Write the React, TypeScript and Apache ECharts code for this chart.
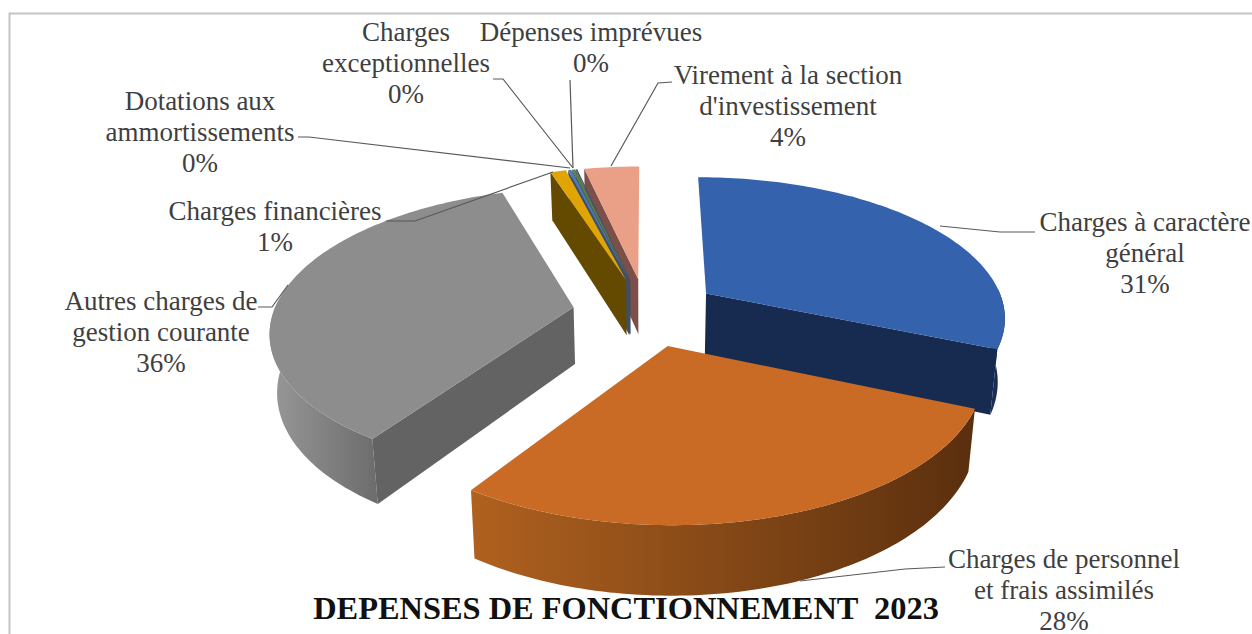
import React, { useEffect, useRef } from "react";
import * as echarts from "echarts";

const categories = [
  "Charges à caractère\ngénéral",
  "Charges de personnel\net frais assimilés",
  "Autres charges de\ngestion courante",
  "Charges financières",
  "Dotations aux\nammortissements",
  "Charges\nexceptionnelles",
  "Dépenses imprévues",
  "Virement à la section\nd'investissement",
];
const values = [31.4, 28, 35.6, 1, 0.2, 0.2, 0.1, 3.5];
const chartTitle = "DEPENSES DE FONCTIONNEMENT  2023";

const topColors = ["#3562ad", "#c96a25", "#8d8d8d", "#e0a504", "#4f79b5", "#5c7f44", "#44546a", "#e9a086"];
const cutColors = ["#172a4f", "#5a2f0e", "#636363", "#644a00", "#3f4f68", "#3f4f68", "#3f4f68", "#7c5048"];
const wallFrom = ["#1a2f5a", "#b0611f", "#989898", "#644a00", "#3f4f68", "#3f4f68", "#3f4f68", "#7c5048"];
const wallTo = ["#14264a", "#5a2f0e", "#6c6c6c", "#644a00", "#3f4f68", "#3f4f68", "#3f4f68", "#7c5048"];
// painter's order: the front slice is drawn last
const drawOrder = [70, 80, 60, 50, 40, 30, 20, 10];
const sliceDepth = [63, 57, 57, 57, 57, 57, 57, 57];

// Projection of the pie plane on the screen
const X0 = 646;
const Y0 = 312;
const FX = 300;
const FY = 139.6;
const PERSP = 0.155;
const BOTTOM_SHRINK = 0.02;
const EXPLODE = 0.245;

const project = (u: number, v: number, depth: number): number[] => {
  const w = 1 / (1 - PERSP * v);
  const shrink = depth > 0 ? 1 - BOTTOM_SHRINK : 1;
  return [X0 + FX * u * w * shrink, Y0 + FY * v * w + depth * w];
};

const labelLayout = [
  { x: 1145, y: 206 },
  { x: 1064, y: 543 },
  { x: 161, y: 285 },
  { x: 275, y: 195 },
  { x: 200, y: 85 },
  { x: 406, y: 16 },
  { x: 591, y: 16 },
  { x: 788, y: 59 },
];
const leaderLines = [
  [[1035, 232], [1000, 232], [940, 226]],
  [[945, 567], [905, 569], [800, 581]],
  [[258, 307], [272, 307], [288, 285]],
  [[386, 221], [415, 221], [553, 172]],
  [[298, 137], [309, 137], [570, 168]],
  [[493, 79], [503, 79], [573, 168]],
  [[570, 80], [573, 168]],
  [[672, 82], [658, 83], [611, 166]],
];

export default function App() {
  const ref = useRef<HTMLDivElement>(null);
  useEffect(() => {
    document.body.style.margin = "0";
    const chart = echarts.init(ref.current!, undefined, { renderer: "svg" });
    const total = values.reduce((a, b) => a + b, 0);
    const starts: number[] = [];
    values.reduce((acc, v, i) => {
      starts[i] = acc;
      return acc + (v / total) * 360;
    }, 0);

    const renderItem = (_p: any, api: any) => {
      const i = api.value(0) as number;
      const val = api.value(1) as number;
      const a0 = (starts[i] * Math.PI) / 180;
      const a1 = a0 + ((val / total) * 360 * Math.PI) / 180;
      const mid = (a0 + a1) / 2;
      const ou = Math.sin(mid) * EXPLODE;
      const ov = -Math.cos(mid) * EXPLODE;
      const steps = Math.max(2, Math.ceil((a1 - a0) / 0.02));
      const d = sliceDepth[i];
      const arcTop: number[][] = [];
      const arcBot: number[][] = [];
      for (let s = 0; s <= steps; s++) {
        const a = a0 + ((a1 - a0) * s) / steps;
        arcTop.push(project(ou + Math.sin(a), ov - Math.cos(a), 0));
        arcBot.push(project(ou + Math.sin(a), ov - Math.cos(a), d));
      }
      const apexT = project(ou, ov, 0);
      const apexB = project(ou, ov, d);
      const z = drawOrder[i];
      const children: any[] = [];
      // outer wall, only the part that faces the viewer
      const vis: number[] = [];
      for (let s = 0; s <= steps; s++) {
        const a = a0 + ((a1 - a0) * s) / steps;
        if (-Math.cos(a) > -0.05) vis.push(s);
      }
      if (vis.length > 1) {
        const top = vis.map((s) => arcTop[s]);
        const bot = vis.map((s) => arcBot[s]).reverse();
        children.push({
          type: "polygon",
          z2: z,
          shape: { points: [...top, ...bot] },
          style: {
            fill: new echarts.graphic.LinearGradient(0, 0, 1, 0, [
              { offset: 0, color: wallFrom[i] },
              { offset: 1, color: wallTo[i] },
            ]),
          },
        });
      }
      // cut faces
      const cut = (normal: number, pT: number[], pB: number[]) => {
        if (-Math.cos(normal) <= 0.01) return;
        children.push({
          type: "polygon",
          z2: z + 1,
          shape: { points: [apexT, pT, pB, apexB] },
          style: { fill: cutColors[i] },
        });
      };
      cut(a0 - Math.PI / 2, arcTop[0], arcBot[0]);
      cut(a1 + Math.PI / 2, arcTop[steps], arcBot[steps]);
      // top face
      children.push({
        type: "polygon",
        z2: z + 2,
        shape: { points: [apexT, ...arcTop] },
        style: { fill: topColors[i] },
      });
      return { type: "group", children };
    };

    const textStyle = {
      fontFamily: "'Liberation Serif', serif",
      fontSize: 27,
      lineHeight: 31,
      fill: "#3f3f3f",
      textAlign: "center",
      textVerticalAlign: "top",
    };

    chart.setOption({
      animation: false,
      backgroundColor: "#ffffff",
      title: {
        text: chartTitle,
        left: 621,
        top: 587,
        textAlign: "center",
        textStyle: {
          fontFamily: "'Liberation Serif', serif",
          fontSize: 32.4,
          fontWeight: "bold",
          color: "#111111",
        },
      },
      series: [
        {
          type: "custom",
          coordinateSystem: "none",
          renderItem,
          silent: true,
          z: 1,
          data: values.map((v, i) => [i, v]),
        },
      ],
      graphic: [
        {
          type: "polyline",
          z: 0,
          shape: { points: [[9.5, 640], [9.5, 13.5], [1252, 13.5]] },
          style: { stroke: "#c4c4c4", lineWidth: 2, fill: "none" },
        },
        ...leaderLines.map((pts) => ({
          type: "polyline",
          z: 5,
          shape: { points: pts },
          style: { stroke: "#595959", lineWidth: 1.2, fill: "none" },
        })),
        ...categories.map((name, i) => ({
          type: "text",
          z: 6,
          x: labelLayout[i].x,
          y: labelLayout[i].y,
          style: { ...textStyle, text: `${name}\n${Math.round(values[i])}%` },
        })),
      ],
    });
    return () => chart.dispose();
  }, []);
  return <div ref={ref} style={{ width: 1252, height: 634 }} />;
}
